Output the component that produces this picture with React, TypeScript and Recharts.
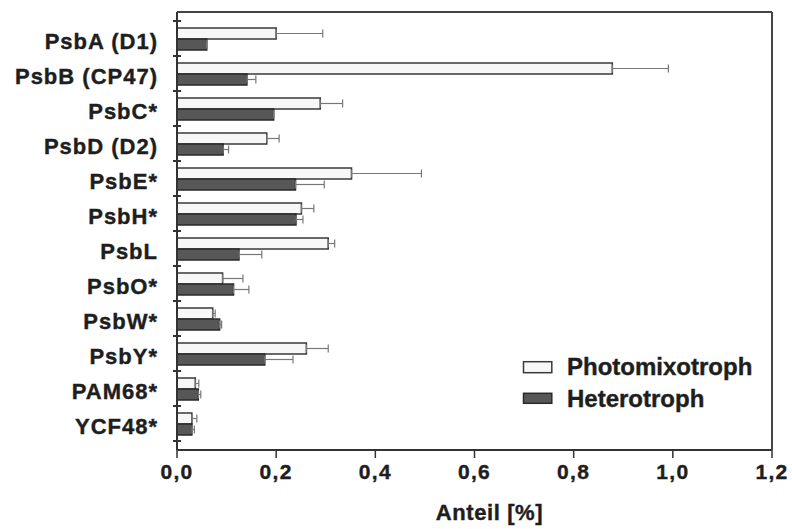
import React from 'react';
import { BarChart, Bar, XAxis, YAxis, ErrorBar, Legend } from 'recharts';

const categories = ['PsbA (D1)', 'PsbB (CP47)', 'PsbC*', 'PsbD (D2)', 'PsbE*', 'PsbH*', 'PsbL', 'PsbO*', 'PsbW*', 'PsbY*', 'PAM68*', 'YCF48*'];
const photoValues = [0.200, 0.878, 0.289, 0.181, 0.352, 0.251, 0.305, 0.092, 0.072, 0.261, 0.037, 0.030];
const photoErrors = [0.094, 0.113, 0.045, 0.025, 0.141, 0.025, 0.013, 0.041, 0.005, 0.044, 0.007, 0.010];
const heteroValues = [0.060, 0.141, 0.195, 0.093, 0.239, 0.240, 0.125, 0.114, 0.086, 0.177, 0.043, 0.030];
const heteroErrors = [0, 0.018, 0, 0.011, 0.058, 0.014, 0.046, 0.031, 0.004, 0.057, 0.005, 0.005];
const xTicks = [0, 0.2, 0.4, 0.6, 0.8, 1.0, 1.2];
const seriesNames = ['Photomixotroph', 'Heterotroph'];

const data = categories.map((name, i) => ({
  name,
  photo: photoValues[i],
  photoErr: [0, photoErrors[i]],
  hetero: heteroValues[i],
  heteroErr: [0, heteroErrors[i]],
}));

const FONT = '"Liberation Sans", Arial, Helvetica, sans-serif';
const AXIS = '#333';
const TXT = '#1e1e1e';

const YTick = (props: any) => {
  const { x, y, payload, index } = props;
  const half = 17.5;
  const axisX = x + 19;
  return (
    <g>
      <line x1={axisX - 4} x2={axisX + 4} y1={y - half} y2={y - half} stroke={AXIS} strokeWidth={2} />
      {index === categories.length - 1 && (
        <line x1={axisX - 4} x2={axisX + 4} y1={y + half} y2={y + half} stroke={AXIS} strokeWidth={2} />
      )}
      <text x={x} y={y} dy={10} textAnchor="end" fontSize={22} letterSpacing={1} fontWeight="bold" fill={TXT} stroke={TXT} strokeWidth={0.4} fontFamily={FONT}>
        {payload.value}
      </text>
    </g>
  );
};

const XTick = (props: any) => {
  const { x, y, payload } = props;
  return (
    <text x={x} y={y} dy={14} textAnchor="middle" fontSize={21} letterSpacing={1.3} fontWeight="bold" fill={TXT} stroke={TXT} strokeWidth={0.4} fontFamily={FONT}>
      {payload.value.toFixed(1).replace('.', ',')}
    </text>
  );
};

const LegendContent = () => (
  <svg width={260} height={70}>
    <rect x={3.5} y={11.7} width={28.3} height={11} fill="#f7f7f7" stroke="#3a3a3a" strokeWidth={1.5} />
    <text x={47} y={25} fontSize={24} fontWeight="bold" fill={TXT} stroke={TXT} strokeWidth={0.4} fontFamily={FONT}>{seriesNames[0]}</text>
    <rect x={3.5} y={43.3} width={28.3} height={10} fill="#575757" stroke="#2a2a2a" strokeWidth={1.5} />
    <text x={47} y={56.7} fontSize={24} fontWeight="bold" fill={TXT} stroke={TXT} strokeWidth={0.4} fontFamily={FONT}>{seriesNames[1]}</text>
  </svg>
);

const AxisLabel = (props: any) => {
  const { viewBox } = props;
  const cx = viewBox.x + viewBox.width / 2 + 15;
  return (
    <text x={cx} y={520} textAnchor="middle" fontSize={22} letterSpacing={0.6} fontWeight="bold" fill={TXT} stroke={TXT} strokeWidth={0.4} fontFamily={FONT}>
      Anteil [%]
    </text>
  );
};

export default function App() {
  return (
    <div style={{ position: 'absolute', left: 0, top: 0, background: '#fff' }}>
      <BarChart
        width={792}
        height={529}
        data={data}
        layout="vertical"
        margin={{ top: 11, right: 19, bottom: 0, left: 0 }}
        barCategoryGap="20%"
        barGap={0}
      >
        <XAxis
          type="number"
          domain={[0, 1.2]}
          ticks={xTicks}
          interval={0}
          height={79}
          tickSize={8}
          tickMargin={7}
          tick={<XTick />}
          axisLine={{ stroke: AXIS, strokeWidth: 2 }}
          tickLine={{ stroke: AXIS, strokeWidth: 1.5 }}
          label={<AxisLabel />}
        />
        <XAxis
          xAxisId="top"
          orientation="top"
          type="number"
          domain={[0, 1.2]}
          height={1}
          tick={false}
          tickLine={false}
          axisLine={{ stroke: '#444', strokeWidth: 2 }}
        />
        <YAxis
          type="category"
          dataKey="name"
          width={177}
          padding={{ top: 9, bottom: 9 }}
          tickSize={0}
          tickMargin={19}
          tickLine={false}
          interval={0}
          tick={<YTick />}
          axisLine={{ stroke: AXIS, strokeWidth: 2 }}
        />
        <YAxis
          yAxisId="right"
          orientation="right"
          type="category"
          dataKey="name"
          width={1}
          tick={false}
          tickLine={false}
          axisLine={{ stroke: '#444', strokeWidth: 2 }}
        />
        <Legend
          layout="vertical"
          align="center"
          verticalAlign="middle"
          content={<LegendContent />}
          wrapperStyle={{ position: 'absolute', top: 350, left: 520, width: 260, height: 70 }}
        />
        <Bar dataKey="photo" name={seriesNames[0]} fill="#f7f7f7" stroke="#3a3a3a" strokeWidth={1.5} isAnimationActive={false}>
          <ErrorBar dataKey="photoErr" direction="x" width={4} stroke="#777" strokeWidth={1.2} />
        </Bar>
        <Bar dataKey="hetero" name={seriesNames[1]} fill="#575757" stroke="#2a2a2a" strokeWidth={1.5} isAnimationActive={false}>
          <ErrorBar dataKey="heteroErr" direction="x" width={4} stroke="#777" strokeWidth={1.2} />
        </Bar>
      </BarChart>
    </div>
  );
}
